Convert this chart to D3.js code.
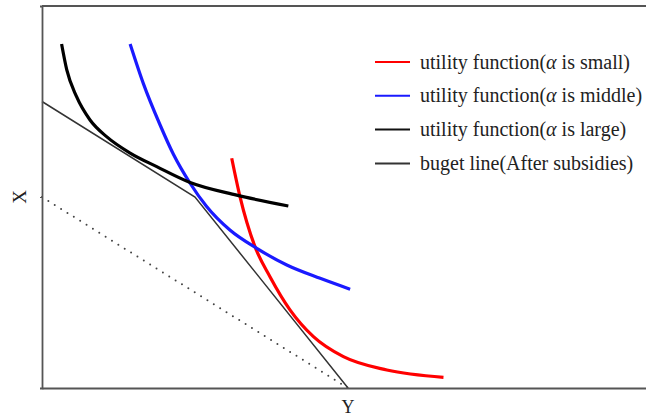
<!DOCTYPE html>
<html lang="en">
<head>
    <meta charset="UTF-8">
    <script type="text/javascript" src="https://cdn.jsdelivr.net/npm/d3@7/dist/d3.min.js"></script>
    <title>utility</title>
    <style>
        body { margin: 0; background: #fff; }
    </style>
</head>
<body>

</body>
<script>

    // horizontal axis is Y, vertical axis is X (as in the picture)
    let smallAlpha = [
        [6.20, 12.03], [6.47, 10.02], [6.96, 7.40], [7.45, 5.83], [8.11, 4.08],
        [8.87, 2.69], [9.85, 1.64], [11.27, 0.94], [13.12, 0.56]
    ]
    let middleAlpha = [
        [2.88, 18.01], [3.31, 15.95], [3.86, 13.77], [4.29, 12.25], [4.84, 10.72],
        [5.38, 9.50], [6.14, 8.27], [7.02, 7.31], [8.00, 6.44], [9.09, 5.74], [10.07, 5.17]
    ]
    let largeAlpha = [
        [0.64, 18.01], [0.81, 16.65], [1.13, 15.25], [1.57, 14.03], [2.11, 13.16],
        [2.88, 12.30], [3.75, 11.59], [4.84, 10.76], [6.36, 10.10], [8.05, 9.53]
    ]
    let budgetAfter = [[0, 15], [5, 10], [10, 0]]
    let budgetBefore = [[0, 10], [10, 0]]

    let legendLabels = [
        {pre: "utility function(", mid: "α", post: " is small)", color: "#ff0000"},
        {pre: "utility function(", mid: "α", post: " is middle)", color: "#1a1aff"},
        {pre: "utility function(", mid: "α", post: " is large)", color: "#111111"},
        {pre: "buget line(After subsidies)", mid: "", post: "", color: "#333333"}
    ]

    let width = 646,
        height = 417,
        mLeft = 42,
        mTop = 6,
        mBottom = 388,
        x = d3.scaleLinear()
            .domain([0, 20])
            .range([mLeft, 654]),
        y = d3.scaleLinear()
            .domain([0, 20])
            .range([mBottom, mTop])

    let svg = d3.select("body")
        .append("svg")
        .attr("width", width)
        .attr("height", height)
        .style("font-family", "'Liberation Serif', 'Times New Roman', serif")

    let line = d3.line()
        .x(d => x(d[0]))
        .y(d => y(d[1]))

    let smooth = d3.line()
        .x(d => x(d[0]))
        .y(d => y(d[1]))
        .curve(d3.curveMonotoneX)

    // budget lines
    svg.append("path")
        .attr("d", line(budgetBefore))
        .attr("fill", "none")
        .attr("stroke", "#444")
        .attr("stroke-width", 2)
        .attr("stroke-linecap", "round")
        .attr("stroke-dasharray", "0 7.5")

    svg.append("path")
        .attr("d", line(budgetAfter))
        .attr("fill", "none")
        .attr("stroke", "#333")
        .attr("stroke-width", 1.5)

    // utility curves
    let curves = [
        {data: smallAlpha, color: "#ff0000"},
        {data: middleAlpha, color: "#1a1aff"},
        {data: largeAlpha, color: "#000000"}
    ]
    svg.selectAll("path.curve")
        .data(curves)
        .enter()
        .append("path")
        .attr("class", "curve")
        .attr("d", d => smooth(d.data))
        .attr("fill", "none")
        .attr("stroke", d => d.color)
        .attr("stroke-width", 3.2)

    // frame
    svg.append("g")
        .attr("transform", "translate(" + mLeft + ",0)")
        .call(d3.axisLeft(y).tickValues([10]).tickSize(2).tickFormat(""))
        .call(g => g.select(".domain").attr("stroke", "#555").attr("stroke-width", 1.8))
        .call(g => g.selectAll(".tick line").attr("stroke", "#555"))

    svg.append("g")
        .attr("transform", "translate(0," + mBottom + ")")
        .call(d3.axisBottom(x).tickValues([]).tickSizeOuter(0))
        .call(g => g.select(".domain").attr("stroke", "#555").attr("stroke-width", 1.8))

    svg.append("line")
        .attr("x1", mLeft).attr("x2", 654)
        .attr("y1", mTop).attr("y2", mTop)
        .attr("stroke", "#555")
        .attr("stroke-width", 1.8)

    // axis titles
    svg.append("text")
        .attr("x", x(10))
        .attr("y", 413)
        .attr("text-anchor", "middle")
        .attr("font-size", 18)
        .attr("fill", "#222")
        .text("Y")

    svg.append("text")
        .attr("transform", "translate(26," + y(10) + ") rotate(-90)")
        .attr("text-anchor", "middle")
        .attr("font-size", 19)
        .attr("fill", "#222")
        .text("X")

    // legend
    let legend = svg.append("g")
        .selectAll("g")
        .data(legendLabels)
        .enter()
        .append("g")
        .attr("transform", (d, i) => "translate(375," + (62 + i * 33.8) + ")")

    legend.append("line")
        .attr("x1", 0).attr("x2", 35)
        .attr("stroke", d => d.color)
        .attr("stroke-width", 2)

    let txt = legend.append("text")
        .attr("x", 45)
        .attr("dy", "0.33em")
        .attr("font-size", 20)
        .attr("fill", "#222")
    txt.append("tspan").text(d => d.pre)
    txt.append("tspan").attr("font-style", "italic").text(d => d.mid)
    txt.append("tspan").text(d => d.post)

</script>
</html>
